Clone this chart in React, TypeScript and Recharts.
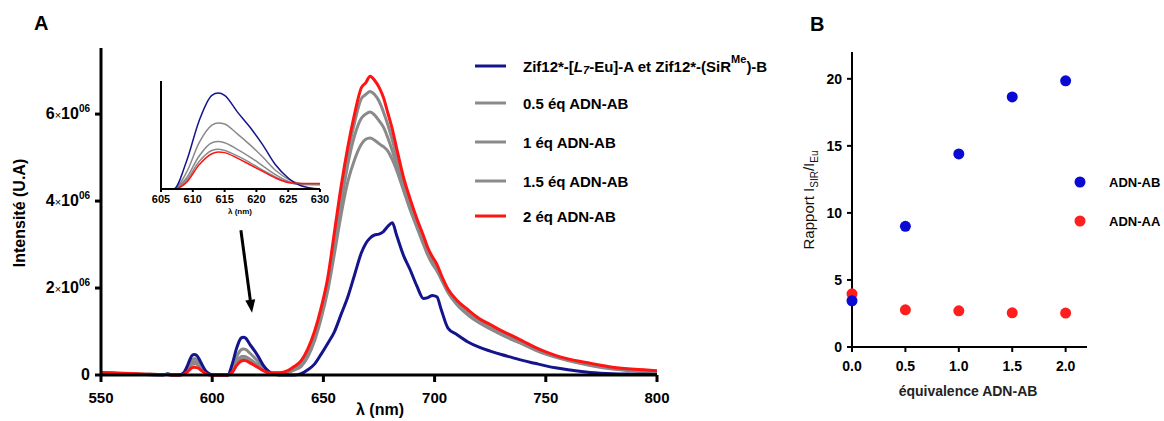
import React from 'react';
import { LineChart, Line, XAxis, YAxis, ScatterChart, Scatter, ReferenceLine } from 'recharts';

// Panel A – emission spectra (intensity in units of 10^6)
const WAVELENGTHS = [
  550, 560, 570, 578, 580, 582,
  585, 587, 589, 590, 591, 592, 593, 594, 595, 597, 599, 601,
  605, 607, 609, 611, 613, 614, 615, 617, 619, 621, 623, 625, 627, 630,
  634, 637, 640, 643, 646, 649, 652, 655, 658, 661, 664, 667, 669, 671, 673, 675, 677, 679,
  681, 683, 686, 689, 692, 695, 697, 699, 701, 703, 706, 710,
  715, 720, 725, 730, 735, 740, 745, 750, 755, 760, 770, 780, 790, 800,
];

const EU_ONLY = [
  0.03, 0.02, 0.01, 0, 0.03, 0,
  0, 0.04, 0.23, 0.36, 0.45, 0.47, 0.45, 0.38, 0.28, 0.1, 0.02, 0,
  0, 0, 0.25, 0.62, 0.85, 0.87, 0.85, 0.7, 0.56, 0.4, 0.22, 0.1, 0.03, 0,
  0, 0, 0.03, 0.12, 0.25, 0.48, 0.73, 1.0, 1.4, 1.8, 2.3, 2.8, 3.02, 3.15, 3.22, 3.24, 3.3, 3.42,
  3.5, 3.2, 2.75, 2.42, 2.05, 1.76, 1.78, 1.83, 1.8, 1.5, 1.08, 0.93,
  0.76, 0.64, 0.55, 0.47, 0.4, 0.33, 0.27, 0.21, 0.16, 0.12, 0.06, 0.03, 0.02, 0.01,
];

const EQ_05 = [
  0.04, 0.03, 0.01, 0.01, 0.01, 0,
  0, 0.03, 0.18, 0.28, 0.35, 0.38, 0.36, 0.3, 0.22, 0.07, 0.01, 0,
  0, 0, 0.15, 0.42, 0.58, 0.6, 0.59, 0.5, 0.4, 0.29, 0.17, 0.09, 0.05, 0.04,
  0.06, 0.12, 0.2, 0.42, 0.78, 1.3, 1.95, 2.8, 3.7, 4.45, 4.95, 5.3, 5.42, 5.45, 5.4, 5.32, 5.25, 5.15,
  4.95, 4.7, 4.25, 3.8, 3.4, 3.0, 2.75, 2.55, 2.4, 2.2, 1.9, 1.62,
  1.38, 1.2, 1.06, 0.93, 0.81, 0.7, 0.58, 0.48, 0.4, 0.33, 0.22, 0.14, 0.09, 0.06,
];

const EQ_10 = [
  0.05, 0.03, 0.02, 0.01, 0.01, 0,
  0, 0.02, 0.15, 0.23, 0.29, 0.31, 0.3, 0.25, 0.18, 0.06, 0.01, 0,
  0, 0, 0.1, 0.3, 0.42, 0.43, 0.42, 0.36, 0.29, 0.21, 0.13, 0.07, 0.04, 0.04,
  0.07, 0.14, 0.23, 0.46, 0.84, 1.38, 2.05, 2.95, 3.95, 4.85, 5.5, 5.9, 6.0, 6.05, 5.98, 5.85, 5.7, 5.45,
  5.15, 4.8, 4.3, 3.85, 3.45, 3.05, 2.8, 2.6, 2.45, 2.22, 1.92, 1.64,
  1.4, 1.22, 1.08, 0.95, 0.83, 0.71, 0.6, 0.49, 0.41, 0.34, 0.23, 0.15, 0.1, 0.07,
];

const EQ_15 = [
  0.05, 0.03, 0.02, 0.01, 0.01, 0,
  0, 0.02, 0.12, 0.2, 0.24, 0.26, 0.25, 0.21, 0.15, 0.05, 0.01, 0,
  0, 0, 0.08, 0.25, 0.35, 0.36, 0.35, 0.3, 0.24, 0.17, 0.11, 0.06, 0.04, 0.04,
  0.08, 0.16, 0.27, 0.52, 0.9, 1.45, 2.12, 3.05, 4.1, 5.1, 5.8, 6.35, 6.45, 6.52, 6.45, 6.3, 6.05, 5.75,
  5.4, 5.0, 4.45, 3.92, 3.5, 3.1, 2.83, 2.63, 2.48, 2.25, 1.95, 1.67,
  1.42, 1.24, 1.1, 0.96, 0.84, 0.72, 0.61, 0.5, 0.42, 0.35, 0.24, 0.16, 0.1, 0.07,
];

const EQ_20 = [
  0.06, 0.04, 0.02, 0.01, 0.01, 0,
  0, 0.01, 0.08, 0.13, 0.17, 0.18, 0.17, 0.15, 0.11, 0.04, 0, 0,
  0, 0, 0.06, 0.22, 0.32, 0.335, 0.33, 0.28, 0.22, 0.16, 0.1, 0.06, 0.05, 0.05,
  0.1, 0.2, 0.33, 0.6, 1.0, 1.55, 2.25, 3.3, 4.35, 5.25, 6.0, 6.6, 6.72, 6.87, 6.78, 6.62, 6.38, 6.02,
  5.65, 5.2, 4.55, 4.05, 3.6, 3.2, 2.92, 2.72, 2.55, 2.3, 1.98, 1.72,
  1.5, 1.3, 1.16, 1.02, 0.9, 0.77, 0.64, 0.53, 0.44, 0.37, 0.27, 0.18, 0.13, 0.1,
];

const SPECTRUM_TICKS_X = [550, 600, 650, 700, 750, 800];
const SPECTRUM_TICKS_Y = [0, 2, 4, 6];
const INSET_TICKS_X = [605, 610, 615, 620, 625, 630];

// Panel B – ratio vs equivalents
const EQUIVALENTS = [0, 0.5, 1.0, 1.5, 2.0];
const RATIO_AB = [3.45, 9.0, 14.4, 18.65, 19.85];
const RATIO_AA = [3.97, 2.77, 2.7, 2.55, 2.53];
const RATIO_TICKS_X = [0, 0.5, 1, 1.5, 2];
const RATIO_TICKS_Y = [0, 5, 10, 15, 20];

const FONT = '"Liberation Sans", Arial, sans-serif';
const NAVY = '#14148c';
const GREY = '#8a8a8a';
const RED = '#ff1414';
const BLUE_B = '#0a0ad2';
const RED_B = '#ff1e1e';

const SERIES = [
  { key: 'eq05', name: '0.5 éq ADN-AB', color: GREY, values: EQ_05 },
  { key: 'eq10', name: '1 éq ADN-AB', color: GREY, values: EQ_10 },
  { key: 'eq15', name: '1.5 éq ADN-AB', color: GREY, values: EQ_15 },
  { key: 'eu', name: 'Zif12*-[L7-Eu]-A et Zif12*-(SiRMe)-B', color: NAVY, values: EU_ONLY },
  { key: 'eq20', name: '2 éq ADN-AB', color: RED, values: EQ_20 },
];

const LEGEND_ORDER = ['eu', 'eq05', 'eq10', 'eq15', 'eq20'];
const LEGEND_Y = [66, 103, 142, 181, 216];

const spectrum = WAVELENGTHS.map((wl, i) => {
  const row: Record<string, number> = { wl };
  SERIES.forEach((s) => { row[s.key] = s.values[i]; });
  return row;
});
const insetData = spectrum.filter((d) => d.wl >= 605 && d.wl <= 630);

const ratioAB = EQUIVALENTS.map((x, i) => ({ x, y: RATIO_AB[i] }));
const ratioAA = EQUIVALENTS.map((x, i) => ({ x, y: RATIO_AA[i] }));

const SciTick = (props: any) => {
  const { x, y, payload } = props;
  const v = payload.value;
  return (
    <text x={x} y={y} dy={5} textAnchor="end" fontFamily={FONT} fontWeight="bold" fontSize={16} fill="#000">
      {v === 0 ? (
        '0'
      ) : (
        <>
          <tspan>{v}</tspan>
          <tspan fontSize={11} fontWeight="normal">×</tspan>
          <tspan>10</tspan>
          <tspan fontSize={10} dy={-7}>06</tspan>
        </>
      )}
    </text>
  );
};

const ArrowShape = (props: any) => {
  const { x1, y1, x2, y2 } = props;
  if ([x1, y1, x2, y2].some((v) => v == null || isNaN(v))) return null;
  const a = Math.atan2(y2 - y1, x2 - x1);
  const len = 13;
  const w = 5;
  const bx = x2 - len * Math.cos(a);
  const by = y2 - len * Math.sin(a);
  const px = -Math.sin(a) * w;
  const py = Math.cos(a) * w;
  return (
    <g>
      <line x1={x1} y1={y1} x2={bx} y2={by} stroke="#000" strokeWidth={3} />
      <polygon points={`${x2},${y2} ${bx + px},${by + py} ${bx - px},${by - py}`} fill="#000" />
    </g>
  );
};

const DotShape = (color: string) => (p: any) => <circle cx={p.cx} cy={p.cy} r={5.5} fill={color} />;

const LegendLabel = ({ k, x, y }: { k: string; x: number; y: number }) => {
  const common = { x, y, fontFamily: FONT, fontWeight: 'bold' as const, fontSize: 15, fill: '#000', dominantBaseline: 'central' as const };
  if (k === 'eu') {
    return (
      <text {...common}>
        <tspan>Zif12*-[</tspan>
        <tspan fontStyle="italic">L</tspan>
        <tspan fontStyle="italic" fontSize={11} dy={4}>7</tspan>
        <tspan dy={-4}>-Eu]-A et Zif12*-(SiR</tspan>
        <tspan fontSize={11} dy={-7}>Me</tspan>
        <tspan dy={7}>)-B</tspan>
      </text>
    );
  }
  const s = SERIES.find((d) => d.key === k)!;
  return <text {...common}>{s.name}</text>;
};

export default function App() {
  const tickA = { fontFamily: FONT, fontWeight: 700, fontSize: 15, fill: '#000' };
  const tickB = { fontFamily: FONT, fontWeight: 700, fontSize: 14, fill: '#000' };
  return (
    <div style={{ position: 'absolute', left: 0, top: 0, width: 1164, height: 421, background: '#fff', fontFamily: FONT }}>
      {/* Panel A main spectrum */}
      <div style={{ position: 'absolute', left: 0, top: 0 }}>
        <LineChart width={700} height={421} data={spectrum} margin={{ top: 48, right: 43, bottom: 16, left: 21 }}>
          <XAxis
            dataKey="wl"
            type="number"
            domain={[550, 800]}
            ticks={SPECTRUM_TICKS_X}
            interval={0}
            height={30}
            stroke="#000"
            strokeWidth={3}
            tickSize={7}
            tickMargin={10}
            tick={tickA}
          />
          <YAxis
            type="number"
            domain={[0, 7.52]}
            ticks={SPECTRUM_TICKS_Y}
            interval={0}
            width={80}
            stroke="#000"
            strokeWidth={3}
            tickSize={6}
            tickMargin={5}
            tick={<SciTick />}
          />
          {SERIES.map((s) => (
            <Line
              key={s.key}
              dataKey={s.key}
              type="monotone"
              stroke={s.color}
              strokeWidth={3}
              dot={false}
              isAnimationActive={false}
            />
          ))}
          <ReferenceLine
            segment={[{ x: 612.9, y: 3.33 }, { x: 617.9, y: 1.43 }]}
            shape={<ArrowShape />}
          />
        </LineChart>
      </div>

      {/* Panel A inset */}
      <div style={{ position: 'absolute', left: 140, top: 60 }}>
        <LineChart width={200} height={160} data={insetData} margin={{ top: 21, right: 20, bottom: 6, left: 19 }}>
          <XAxis
            dataKey="wl"
            type="number"
            domain={[605, 630]}
            ticks={INSET_TICKS_X}
            interval={0}
            height={25}
            stroke="#000"
            strokeWidth={2}
            tickSize={3}
            tickMargin={3}
            tick={{ fontFamily: FONT, fontWeight: 700, fontSize: 11, fill: '#000' }}
          />
          <YAxis type="number" domain={[0, 0.98]} width={2} stroke="#000" strokeWidth={2} tick={false} tickLine={false} />
          {SERIES.map((s) => (
            <Line
              key={s.key}
              dataKey={s.key}
              type="monotone"
              stroke={s.color}
              strokeWidth={1.5}
              dot={false}
              isAnimationActive={false}
            />
          ))}
        </LineChart>
      </div>

      {/* Panel B */}
      <div style={{ position: 'absolute', left: 790, top: 0 }}>
        <ScatterChart width={374} height={421} margin={{ top: 52, right: 77, bottom: 34, left: 22 }}>
          <XAxis
            dataKey="x"
            type="number"
            domain={[0, 2.2]}
            ticks={RATIO_TICKS_X}
            interval={0}
            height={40}
            stroke="#000"
            strokeWidth={2}
            tickSize={5}
            tickMargin={9}
            tick={tickB}
            tickFormatter={(v: number) => v.toFixed(1)}
          />
          <YAxis
            dataKey="y"
            type="number"
            domain={[0, 22]}
            ticks={RATIO_TICKS_Y}
            interval={0}
            width={40}
            stroke="#000"
            strokeWidth={2}
            tickSize={5}
            tickMargin={5}
            tick={tickB}
          />
          <Scatter data={ratioAA} shape={DotShape(RED_B)} isAnimationActive={false} />
          <Scatter data={ratioAB} shape={DotShape(BLUE_B)} isAnimationActive={false} />
        </ScatterChart>
      </div>

      {/* Text overlay: panel letters, axis titles, legends */}
      <svg width={1164} height={421} style={{ position: 'absolute', left: 0, top: 0, pointerEvents: 'none' }}>
        <text x={34} y={30} fontFamily={FONT} fontWeight="bold" fontSize={20}>A</text>
        <text x={810} y={31} fontFamily={FONT} fontWeight="bold" fontSize={20}>B</text>

        <text x={380} y={415} textAnchor="middle" fontFamily={FONT} fontWeight="bold" fontSize={16}>λ (nm)</text>
        <text
          transform="translate(25,213) rotate(-90)"
          textAnchor="middle"
          fontFamily={FONT}
          fontWeight="bold"
          fontSize={16}
        >
          Intensité (U.A)
        </text>
        <text x={240} y={214} textAnchor="middle" fontFamily={FONT} fontWeight="bold" fontSize={8}>λ (nm)</text>

        {LEGEND_ORDER.map((k, i) => {
          const s = SERIES.find((d) => d.key === k)!;
          return (
            <g key={k}>
              <line x1={475} x2={506} y1={LEGEND_Y[i]} y2={LEGEND_Y[i]} stroke={s.color} strokeWidth={3} />
              <LegendLabel k={k} x={523} y={LEGEND_Y[i]} />
            </g>
          );
        })}

        <text x={968} y={396} textAnchor="middle" fontFamily={FONT} fontWeight="bold" fontSize={14} fill="#222">équivalence ADN-AB</text>
        <text
          transform="translate(814,200) rotate(-90)"
          textAnchor="middle"
          fontFamily={FONT}
          fontSize={15}
          fill="#111"
        >
          <tspan>Rapport  I</tspan>
          <tspan fontSize={10} dy={4}>SIR</tspan>
          <tspan dy={-4}>/I</tspan>
          <tspan fontSize={10} dy={4}>Eu</tspan>
        </text>

        <circle cx={1080} cy={182} r={5.5} fill={BLUE_B} />
        <text x={1109} y={182} dominantBaseline="central" fontFamily={FONT} fontWeight="bold" fontSize={13}>ADN-AB</text>
        <circle cx={1080} cy={221} r={5.5} fill={RED_B} />
        <text x={1109} y={221} dominantBaseline="central" fontFamily={FONT} fontWeight="bold" fontSize={13}>ADN-AA</text>
      </svg>
    </div>
  );
}
